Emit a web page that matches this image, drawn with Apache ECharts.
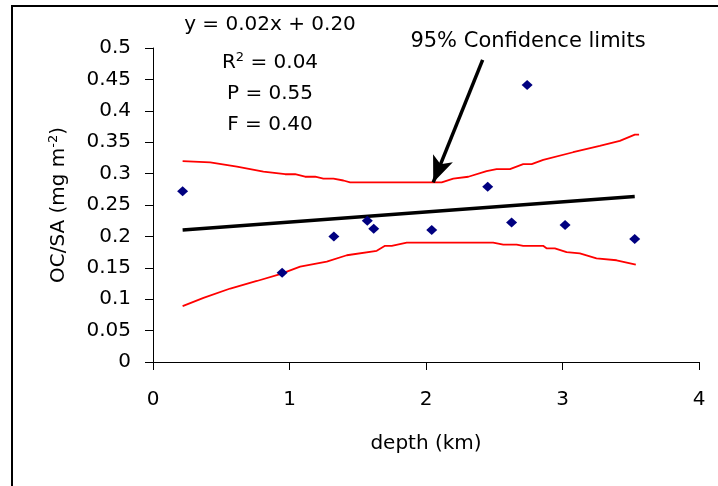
<!DOCTYPE html>
<html>
<head>
<meta charset="utf-8">
<script src="https://cdn.jsdelivr.net/npm/echarts@6/dist/echarts.min.js"></script>
<style>
html,body{margin:0;padding:0;background:#fff;}
#chart{width:718px;height:486px;}
</style>
</head>
<body>
<div id="chart"></div>
<script>
// observed data points
const depth = [0.217, 0.946, 1.325, 1.570, 1.617, 2.042, 2.452, 2.627, 2.741, 3.019, 3.529];
const ocsa  = [0.272, 0.142, 0.200, 0.225, 0.212, 0.210, 0.279, 0.222, 0.441, 0.218, 0.196];

// regression line end points
const fitX = [0.217, 3.529];
const fitY = [0.210, 0.2635];

// 95% confidence limits (upper)
const upperX = [0.217,0.419,0.615,0.809,0.968,1.041,1.114,1.188,1.248,1.322,1.395,1.444,2.115,2.200,2.310,2.444,2.517,2.615,2.712,2.774,2.859,3.078,3.273,3.420,3.530,3.561];
const upperY = [0.320,0.318,0.311,0.303,0.299,0.299,0.295,0.295,0.292,0.292,0.289,0.286,0.286,0.292,0.295,0.304,0.307,0.307,0.315,0.315,0.322,0.334,0.344,0.352,0.362,0.362];

// 95% confidence limits (lower)
const lowerX = [0.217,0.370,0.566,0.761,0.932,1.078,1.273,1.420,1.639,1.700,1.749,1.859,2.492,2.566,2.664,2.712,2.858,2.883,2.944,3.030,3.127,3.249,3.396,3.537];
const lowerY = [0.089,0.102,0.117,0.129,0.140,0.152,0.160,0.170,0.177,0.185,0.185,0.190,0.190,0.187,0.187,0.185,0.185,0.181,0.181,0.175,0.173,0.165,0.162,0.155];

// arrow annotation (data coordinates)
const arrowFrom = [2.415, 0.481];
const arrowTo   = [2.053, 0.286];

// axis ticks
const xTicks = {min: 0, max: 4, interval: 1};
const yTicks = {min: 0, max: 0.5, interval: 0.05};

const statLines = ['y = 0.02x + 0.20', 'R{sup|2} = 0.04', 'P = 0.55', 'F = 0.40'];
const arrowLabel = '95% Confidence limits';

const FONT = 'DejaVu Sans';
const zip = (a, b) => a.map((v, i) => [v, b[i]]);

const chart = echarts.init(document.getElementById('chart'), null, {renderer: 'canvas'});

const statY = [25, 63, 94, 125];

chart.setOption({
  animation: false,
  backgroundColor: '#fff',
  grid: {left: 153, right: 19, top: 48, bottom: 124, containLabel: false},
  xAxis: {
    type: 'value', min: xTicks.min, max: xTicks.max, interval: xTicks.interval,
    name: 'depth (km)', nameLocation: 'middle', nameGap: 72,
    nameTextStyle: {fontFamily: FONT, fontSize: 20, color: '#000'},
    axisLine: {show: true, onZero: false, lineStyle: {color: '#000', width: 1}},
    axisTick: {show: true, inside: false, length: 8, lineStyle: {color: '#000'}},
    axisLabel: {fontFamily: FONT, fontSize: 20, color: '#000', margin: 28},
    splitLine: {show: false}
  },
  yAxis: {
    type: 'value', min: yTicks.min, max: yTicks.max, interval: yTicks.interval,
    name: 'OC/SA (mg m{sup|-2})', nameLocation: 'middle', nameGap: 83,
    nameTextStyle: {fontFamily: FONT, fontSize: 20, color: '#000',
      rich: {sup: {fontFamily: FONT, fontSize: 13, color: '#000', verticalAlign: 'top', padding: [0, 0, 10, 0]}}},
    axisLine: {show: true, onZero: false, lineStyle: {color: '#000', width: 1}},
    axisTick: {show: true, inside: false, length: 8, lineStyle: {color: '#000'}},
    axisLabel: {fontFamily: FONT, fontSize: 20, color: '#000', margin: 22,
      formatter: v => String(+v.toFixed(2))},
    splitLine: {show: false}
  },
  series: [
    {
      type: 'line', name: 'upper', data: zip(upperX, upperY), showSymbol: false, symbol: 'none',
      lineStyle: {color: '#ff0000', width: 1.8}, silent: true
    },
    {
      type: 'line', name: 'lower', data: zip(lowerX, lowerY), showSymbol: false, symbol: 'none',
      lineStyle: {color: '#ff0000', width: 1.8}, silent: true
    },
    {
      type: 'line', name: 'fit', data: zip(fitX, fitY), showSymbol: false, symbol: 'none',
      lineStyle: {color: '#000', width: 3.5}, silent: true,
      markLine: {
        silent: true, animation: false,
        label: {show: false},
        lineStyle: {color: '#000', width: 3.5, type: 'solid'},
        symbolSize: [16, 26],
        data: [[
          {coord: arrowFrom, symbol: 'none'},
          {coord: arrowTo, symbol: 'arrow'}
        ]]
      }
    },
    {
      type: 'scatter', name: 'OC/SA', data: zip(depth, ocsa),
      symbol: 'diamond', symbolSize: [11, 10],
      itemStyle: {color: '#000080', opacity: 1}, z: 5
    }
  ],
  graphic: [
    {type: 'rect', shape: {x: 12, y: 6, width: 760, height: 560},
     style: {fill: null, stroke: '#000', lineWidth: 2}, silent: true, z: 100},
    ...statLines.map((t, i) => ({
      type: 'text', x: 270, y: statY[i], silent: true,
      style: {text: t, fontFamily: FONT, fontSize: 20, fill: '#000',
        textAlign: 'center', textVerticalAlign: 'middle',
        rich: {sup: {fontFamily: FONT, fontSize: 13, fill: '#000', verticalAlign: 'top', padding: [0, 0, 10, 0]}}}
    })),
    {type: 'text', x: 528, y: 42, silent: true,
     style: {text: arrowLabel, fontFamily: FONT, fontSize: 21, fill: '#000',
       textAlign: 'center', textVerticalAlign: 'middle'}}
  ]
});
</script>
</body>
</html>
